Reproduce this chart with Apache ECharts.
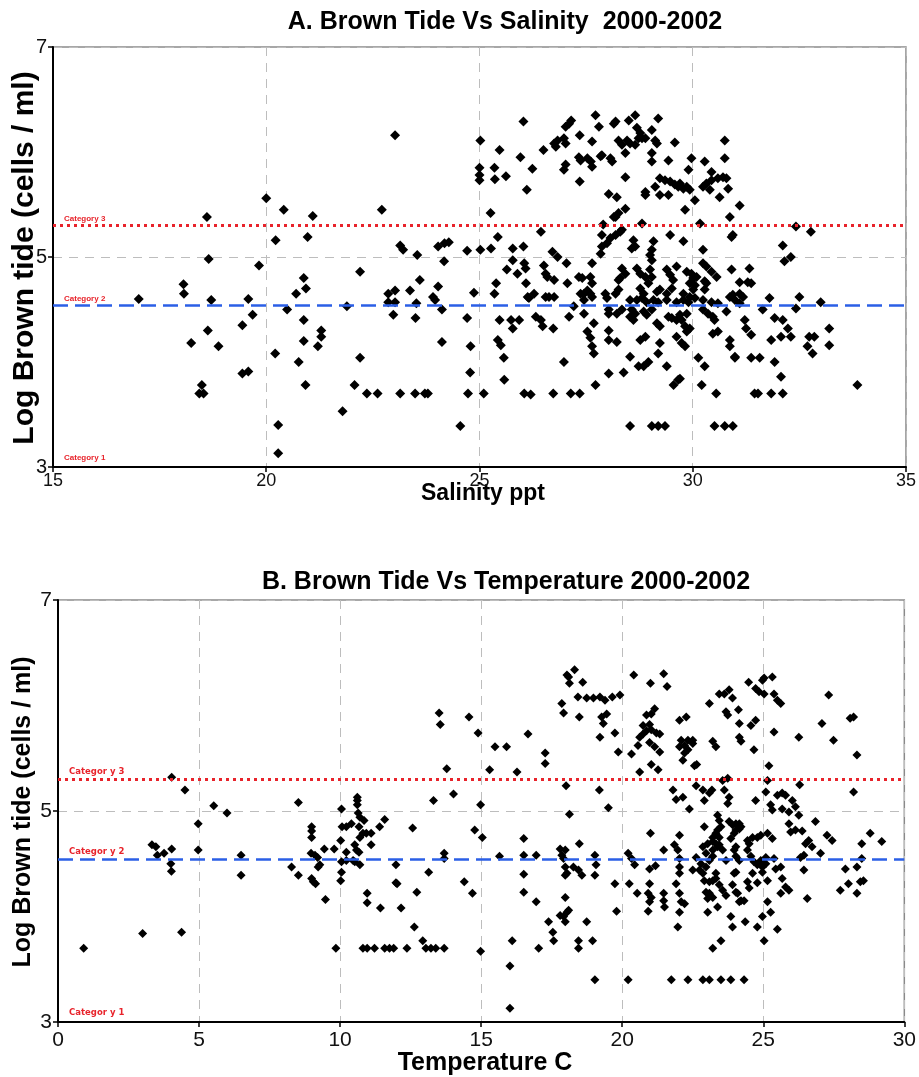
<!DOCTYPE html>
<html>
<head>
<meta charset="utf-8">
<script src="https://cdn.jsdelivr.net/npm/echarts@6/dist/echarts.min.js"></script>
<style>html,body{margin:0;padding:0;background:#fff}#c{width:919px;height:1077px}</style>
</head>
<body>
<div id="c"></div>
<script>
// ---------- DATA ----------
const salinityTicks = [15, 20, 25, 30, 35];
const temperatureTicks = [0, 5, 10, 15, 20, 25, 30];
const logTicks = [3, 5, 7];
const categoryNamesA = ['Category 3', 'Category 2', 'Category 1'];
const categoryNamesB = ['Categor y 3', 'Categor y 2', 'Categor y 1'];
const categoryLevels = [5.30, 4.54, 3.0];

// [salinity ppt, log brown tide]
const salinityPoints = [
[17.01,4.60],[18.06,4.74],[18.07,4.65],[18.24,4.18],[18.61,5.38],[18.65,4.98],[18.71,4.59],[18.63,4.30],[18.88,4.15],[18.49,3.78],[18.43,3.70],[18.53,3.70],[19.44,4.35],[19.68,4.45],[19.58,4.60],[19.44,3.89],[19.58,3.91],[19.83,4.92],[20.0,5.56],[20.22,5.16],[20.41,5.45],[20.21,4.08],[20.28,3.40],[20.28,3.13],[20.49,4.50],[20.70,4.65],[20.88,4.80],[20.93,4.70],[20.88,4.40],[20.88,4.20],[20.76,4.00],[20.92,3.78],[20.97,5.19],[21.09,5.39],[21.29,4.30],[21.29,4.24],[21.21,4.15],
[21.89,4.53],[22.20,4.86],[22.20,4.04],[21.79,3.53],[22.07,3.78],[22.36,3.70],[22.61,3.70],[22.71,5.45],[23.02,6.16],[22.86,4.65],[23.02,4.68],[22.86,4.57],[23.02,4.57],[22.98,4.45],[23.14,3.70],[23.14,5.11],[23.21,5.07],[23.37,4.68],[23.49,3.70],[23.72,3.70],[23.79,3.70],[23.54,5.02],[23.60,4.78],[23.52,4.56],[23.50,4.42],[23.91,4.62],[23.96,4.59],[24.03,4.72],[24.12,4.50],[24.12,4.19],[24.03,5.10],[24.18,5.13],[24.28,5.14],[24.17,4.96],[24.55,3.39],[24.71,5.06],[24.71,4.42],[24.79,4.15],[24.78,3.90],[24.73,3.70],[25.10,3.70],[24.87,4.66],[25.02,6.11],[25.0,5.85],[25.0,5.78],[25.0,5.73],[25.02,5.07],[25.26,5.42],[25.27,5.08],[25.35,5.85],[25.36,5.74],[25.47,6.02],[25.62,5.77],[25.43,5.19],[25.39,4.75],[25.35,4.65],[25.47,4.40],[25.43,4.21],[25.50,4.16],[25.57,4.04],[25.58,3.83],[25.64,4.88],[25.78,5.08],[25.78,4.97],[25.74,4.40],[25.78,4.32],[25.93,4.40],[25.89,4.84],[26.05,4.94],[26.08,4.89],[26.03,5.10],[25.96,5.95],[26.03,6.29],[26.11,5.64],[26.24,5.84],[26.09,4.75],[26.13,4.62],[26.16,4.61],[26.28,4.65],[26.05,3.70],[26.20,3.69],[26.32,4.43],[26.44,4.40],[26.48,4.34],[26.44,5.24],[26.50,6.02],[26.51,4.92],[26.55,4.84],[26.59,4.81],[26.55,4.62],[26.63,4.62],[26.73,4.32],[26.73,3.70],[26.75,4.78],[26.71,5.05],[26.83,5.00],[26.75,4.62],
[26.75,6.08],[26.83,6.11],[26.79,6.05],[26.98,5.83],[27.02,5.88],[26.98,6.13],[27.02,6.08],[27.02,6.24],[27.10,6.27],[27.15,6.30],[27.04,4.94],[27.06,4.75],[26.98,4.00],[27.10,4.43],[27.21,4.53],[27.35,6.16],[27.33,5.95],[27.37,5.92],[27.35,5.72],[27.14,3.70],[27.35,3.70],[27.33,4.81],[27.41,4.80],[27.37,4.65],[27.45,4.65],[27.45,4.46],[27.45,4.59],[27.53,5.94],[27.61,5.91],[27.64,5.86],[27.64,6.10],[27.72,6.35],[27.80,6.24],[27.84,5.96],[27.87,5.97],[27.64,4.94],[27.60,4.81],[27.64,4.75],[27.53,4.68],[27.60,4.65],[27.64,4.62],[27.53,4.29],[27.60,4.23],[27.64,4.15],[27.68,4.08],[27.68,4.37],[27.72,3.78],[27.84,5.03],[27.87,5.10],[27.87,5.21],[28.03,3.89],[28.03,4.30],[28.03,4.50],[28.03,4.46],[27.95,4.65],[27.99,4.61],[28.03,5.60],[28.07,5.94],[28.11,5.91],[28.15,6.27],[28.15,5.38],[27.90,5.31],
[28.19,6.29],[28.50,6.30],[28.65,6.35],[28.69,6.23],[28.77,6.18],[28.73,6.13],[29.04,6.21],[29.19,6.32],[28.26,6.11],[28.34,6.07],[28.46,6.11],[28.53,6.08],[28.42,5.99],[28.65,6.07],[28.81,6.13],[28.89,6.13],[29.12,6.11],[29.16,6.08],[29.58,6.09],[29.04,5.99],[29.04,5.91],[29.43,5.92],[28.42,5.76],[28.89,5.62],[28.89,5.59],[29.12,5.67],[29.23,5.75],[29.35,5.73],[29.47,5.72],[29.58,5.69],[29.66,5.67],[29.23,5.59],[29.43,5.59],[29.78,5.65],[29.86,5.67],[29.93,5.64],[29.70,5.70],[29.90,5.83],[29.97,5.94],[30.05,5.54],[29.82,5.45],[30.24,5.67],[30.32,5.70],[30.44,5.73],[30.40,5.64],[30.28,5.91],[30.44,5.81],[30.59,5.75],[30.71,5.76],[30.79,5.75],[30.83,5.65],[30.63,5.57],[30.75,6.11],[30.75,5.94],[31.10,5.49],[30.87,5.38],[30.91,5.19],[30.94,5.21],[28.22,5.57],[28.42,5.46],[28.19,5.38],[28.26,5.42],[28.81,5.32],[28.19,5.21],[28.30,5.24],[28.34,5.26],[27.99,5.13],[28.07,5.18],[28.61,5.16],[28.65,5.10],[29.08,5.15],[29.04,5.07],[29.00,5.02],[29.47,5.21],[29.78,5.15],[28.57,5.08],[29.04,4.97],[30.24,5.07],[30.24,4.94],[30.32,4.91],[30.44,4.86],[30.56,4.81],[30.91,4.88],[31.33,4.89],[31.10,4.76],[31.29,4.76],[31.37,4.75],[30.94,4.64],[31.10,4.65],[31.18,4.62],[31.10,4.56],
[28.34,4.89],[28.42,4.84],[28.30,4.80],[28.26,4.78],[28.69,4.89],[28.77,4.84],[28.89,4.81],[29.00,4.88],[29.04,4.81],[28.96,4.75],[29.39,4.88],[29.47,4.83],[29.54,4.78],[29.62,4.91],[29.86,4.86],[29.97,4.84],[30.01,4.80],[30.09,4.81],[29.93,4.75],[30.05,4.73],[30.01,4.69],[29.78,4.65],[29.93,4.62],[30.05,4.61],[29.51,4.70],[29.39,4.65],[29.16,4.67],[29.23,4.69],[28.77,4.70],[28.85,4.65],[28.19,4.65],[28.26,4.69],[28.53,4.59],[28.69,4.59],[28.81,4.61],[28.92,4.57],[29.08,4.59],[29.19,4.57],[29.39,4.59],[29.62,4.57],[29.78,4.59],[29.90,4.57],[30.24,4.59],[30.44,4.57],[30.59,4.56],[30.87,4.62],[30.99,4.59],
[28.22,4.46],[28.34,4.50],[28.57,4.50],[28.53,4.43],[28.61,4.40],[28.65,4.46],[28.85,4.48],[28.92,4.45],[29.04,4.50],[29.16,4.37],[29.23,4.34],[29.43,4.43],[29.51,4.42],[29.62,4.40],[29.74,4.40],[29.70,4.45],[29.86,4.46],[29.82,4.34],[29.93,4.32],[29.86,4.29],[29.62,4.24],[29.74,4.18],[29.82,4.15],[30.24,4.50],[30.36,4.46],[30.47,4.43],[30.51,4.40],[30.47,4.27],[30.59,4.29],[30.87,4.21],[30.87,4.15],[30.99,4.05],[31.22,4.40],[31.25,4.32],[31.37,4.26],[31.64,4.50],[31.80,4.61],[31.92,4.42],[32.11,4.40],[32.23,4.32],[32.30,4.24],[31.84,4.21],[32.07,4.24],[32.42,4.51],[32.50,4.62],[32.73,4.24],[32.85,4.24],[32.69,4.15],[32.81,4.08],[33.00,4.57],[33.20,4.32],[33.20,4.16],[33.86,3.78],[32.11,5.11],[32.15,4.96],[32.30,5.00],[32.42,5.29],[32.77,5.24],
[28.03,4.21],[28.22,4.19],[28.77,4.21],[28.89,4.24],[29.23,4.18],[29.19,4.08],[28.53,4.05],[28.73,3.96],[28.85,3.96],[28.96,4.00],[28.38,3.90],[29.39,3.96],[29.55,3.78],[29.70,3.84],[29.66,3.83],[30.13,4.04],[30.28,3.96],[30.21,3.78],[30.55,3.70],[30.99,4.04],[31.37,4.04],[31.57,4.04],[31.92,4.00],[32.07,3.86],[31.45,3.70],[31.53,3.70],[31.84,3.70],[32.11,3.70],[28.53,3.39],[29.04,3.39],[29.19,3.39],[29.35,3.39],[30.51,3.39],[30.75,3.39],[30.94,3.39],[30.28,4.77],[30.32,4.75],[30.28,4.69],[30.79,4.48],[30.17,5.32]
];

// [temperature C, log brown tide]
const temperaturePoints = [
[0.91,3.70],[3.00,3.84],[4.38,3.85],[3.33,4.68],[3.47,4.66],[3.52,4.58],[3.76,4.60],[4.03,4.64],[4.03,5.32],[4.50,5.20],[4.00,4.50],[4.02,4.43],[4.97,4.88],[4.97,4.63],[5.52,5.05],[5.99,4.98],[6.49,4.58],[6.49,4.39],[8.52,5.08],[8.28,4.47],[8.52,4.39],[8.99,4.85],[8.99,4.81],[8.99,4.75],[8.97,4.60],[9.11,4.58],[9.20,4.56],[9.28,4.49],[9.22,4.47],[8.99,4.36],[9.05,4.33],[9.13,4.31],[9.48,4.16],[9.44,4.64],[9.79,4.64],[9.85,3.70],[10.05,5.02],[10.07,4.85],[10.02,4.72],[10.05,4.52],[10.05,4.42],[10.02,4.34],[10.22,4.85],[10.40,4.88],[10.22,4.61],[10.22,4.53],[10.46,4.53],[10.52,4.68],[10.61,5.13],[10.61,5.10],[10.61,5.06],[10.64,4.98],[10.70,4.94],[10.85,4.91],[10.67,4.85],[10.70,4.75],[10.58,4.63],[10.67,4.61],[10.52,4.52],[10.70,4.49],[10.81,4.79],[10.93,4.79],[11.10,4.79],[11.10,4.68],[10.96,4.22],[10.96,4.13],[10.81,3.70],[10.96,3.70],[11.22,3.70],[11.43,4.08],[11.40,4.85],[11.58,4.92],[11.58,3.70],[11.75,3.70],[11.90,3.70],[11.98,4.49],[11.98,4.32],[12.02,4.31],[12.16,4.08],[12.37,3.70],[12.57,4.84],[12.72,4.23],[12.63,3.90],[12.93,3.77],[13.04,3.70],[13.22,3.70],[13.39,3.70],[13.69,3.70],[13.14,4.42],[13.31,5.10],[13.51,5.93],[13.55,5.82],[13.78,5.40],[14.02,5.16],[13.69,4.60],[13.69,4.55],
[14.40,4.33],[14.69,4.22],[14.57,5.89],[14.89,5.74],[14.98,5.06],[14.77,4.82],[15.04,4.75],[14.98,3.67],[15.49,5.61],[15.90,5.61],[15.30,5.39],[16.27,5.37],[15.65,4.57],[16.10,3.77],[16.02,3.53],[16.02,3.13],[16.66,5.73],[16.51,4.74],[16.51,4.58],[16.51,4.40],[16.51,4.23],[16.95,4.58],[16.95,4.14],[17.04,3.70],[17.27,5.55],[17.27,5.45],[17.39,3.95],[17.54,3.85],[17.57,3.77],[17.86,6.02],[17.92,5.93],[18.01,5.24],[17.80,4.64],[17.98,4.63],[17.86,4.58],[17.92,4.55],[17.98,4.47],[18.04,4.41],[17.98,4.39],[18.13,4.97],[17.98,4.18],[17.80,4.01],[17.92,4.00],[18.04,4.04],[17.98,3.95],[18.10,4.06],[18.04,6.29],[18.13,6.21],[18.10,6.27],[18.31,6.34],[18.48,4.69],[18.27,4.47],[18.45,4.44],[18.57,4.39],[18.45,3.77],[18.45,3.70],[18.48,5.89],[18.60,6.22],[18.43,6.08],[18.74,6.07],[18.98,6.07],[19.21,6.08],[19.39,6.05],[19.65,6.08],[19.92,6.10],[18.74,3.95],[18.95,3.77],[19.03,4.58],[19.07,4.49],[19.03,4.39],[19.03,3.40],[19.21,5.70],[19.33,5.83],[19.27,5.89],[19.45,5.92],[19.19,5.20],[19.51,5.03],[19.74,4.31],[19.74,5.74],[19.86,5.56],[19.80,4.05],[20.21,4.60],[20.33,4.55],[20.44,4.49],[20.25,4.31],[20.53,4.22],[20.21,3.40],[20.33,5.54],[20.62,5.37],[20.41,6.29],[21.00,6.21],[21.47,6.30],[21.59,6.18],
[20.86,5.91],[21.03,5.92],[21.15,5.97],[20.97,5.82],[20.74,5.81],[20.86,5.76],[21.03,5.77],[21.21,5.74],[21.33,5.73],[20.62,5.70],[20.74,5.73],[20.56,5.62],[20.97,5.65],[21.15,5.61],[21.33,5.56],
[21.03,5.44],[21.27,5.39],[21.00,4.79],[20.97,4.45],[20.97,4.31],[20.92,4.22],[21.03,4.18],[20.97,4.14],[20.92,4.05],[21.18,4.48],[21.47,4.63],[21.47,4.22],[21.47,4.15],[21.50,4.09],[21.74,3.40],[22.33,3.40],
[21.80,5.20],[21.91,5.11],[22.15,5.13],[22.38,5.02],[21.97,3.90],[21.85,4.68],[21.97,4.63],[22.03,4.55],[22.03,4.47],[22.03,4.41],[21.91,4.31],[22.03,4.22],[22.09,4.14],[22.03,4.04],[22.03,4.77],[22.21,4.12],
[22.03,5.86],[22.27,5.89],[22.09,5.67],[22.21,5.62],[22.33,5.67],[22.50,5.64],[22.03,5.61],[22.21,5.55],[22.33,5.58],[22.50,5.67],[22.15,5.48],[22.56,5.43],
[22.74,4.44],[22.86,4.41],[22.97,4.47],[23.09,4.53],[23.21,4.57],[22.97,4.60],[22.86,4.66],[23.03,4.69],[23.21,4.63],[23.32,4.41],[23.21,4.34],[23.44,4.30],[23.56,4.25],
[22.91,4.85],[22.86,5.20],[22.91,5.10],[22.64,5.44],[22.62,5.24],[23.18,5.20],[23.09,5.17],[23.09,6.02],[23.21,5.66],[23.32,5.61],[23.09,4.22],[23.21,4.18],[23.03,4.04],[23.21,3.70],[23.50,3.77],[22.86,3.40],[23.09,3.40],[23.50,3.40],[23.85,3.40],[24.32,3.40],
[23.38,4.96],[23.44,4.91],[23.50,4.85],[23.38,4.82],[23.21,4.75],[23.32,4.69],[23.44,4.68],[23.56,4.63],[23.68,4.53],[23.38,4.09],
[23.44,6.11],[23.62,6.11],[23.79,6.15],[23.91,6.07],[23.68,5.94],[23.74,5.91],
[23.56,5.29],[23.74,5.31],[23.62,5.20],[23.79,5.13],[23.74,5.07],
[23.79,4.90],[23.91,4.87],[24.03,4.82],[24.15,4.88],[24.21,4.85],[23.97,4.79],
[23.85,4.74],[23.97,4.63],[24.03,4.57],[24.15,4.53],[23.97,4.41],[23.91,4.30],[24.09,4.22],[23.85,4.00],[23.91,3.90],
[24.12,5.96],[24.15,5.83],[24.15,5.70],[24.21,5.66],[24.32,4.15],[24.15,4.14],[24.36,3.95],
[24.44,4.72],[24.50,4.69],[24.62,4.75],[24.79,4.75],[24.91,4.77],[24.44,4.63],[24.56,4.57],[24.67,4.52],[24.79,4.49],[24.91,4.53],[24.97,4.47],[24.62,4.41],[24.44,4.33],[24.50,4.27],[24.79,4.32],
[24.48,6.22],[24.73,6.16],[24.85,6.13],[25.03,6.11],[25.03,6.26],[25.32,6.27],[25.38,6.11],[25.50,6.05],[25.62,6.02],[24.97,6.24],[24.73,5.86],[24.56,5.81],[25.38,5.75],[24.67,5.58],
[24.73,5.10],[25.09,5.18],[25.20,5.43],[25.15,5.29],
[25.26,5.06],[25.32,5.01],[25.50,5.15],[25.67,5.17],[25.79,5.15],[25.67,5.02],[25.91,4.99],[26.03,5.10],[26.14,5.04],[26.26,4.96],[25.91,4.88],[25.97,4.80],[26.14,4.82],[26.38,4.81],[26.32,4.56],[26.50,4.69],[26.61,4.72],[26.73,4.66],[26.44,4.58],[26.85,4.90],[27.03,4.60],[27.26,4.77],[27.44,4.72],
[25.15,4.79],[25.32,4.74],[25.09,4.56],[25.38,4.55],[25.09,4.50],[24.97,4.42],[25.15,4.34],[25.44,4.45],
[25.62,4.47],[25.67,4.36],[25.79,4.28],[25.91,4.25],[25.62,4.22],
[25.15,4.14],[25.26,4.04],[24.97,4.00],[24.79,3.90],[25.03,3.77],[25.50,3.88],
[26.26,5.70],[27.08,5.83],[27.32,6.10],[27.49,5.67],[28.08,5.88],[28.20,5.89],[28.32,5.53],[28.20,5.18],[28.79,4.79],[29.20,4.71],[26.29,5.25],
[26.44,4.44],[26.56,4.17],
[27.73,4.25],[27.91,4.45],[28.02,4.31],[28.32,4.22],[28.32,4.47],[28.44,4.33],[28.55,4.34],[28.49,4.69],[28.49,4.55],
[24.03,4.88],[24.15,4.83],[23.44,4.75],[23.32,4.79],[23.21,4.71],[23.38,4.66],[22.79,4.50],[22.62,4.56],[22.50,4.44],[22.91,4.34],[23.09,4.33],[22.97,4.23],[23.03,4.17],[23.32,4.36],[23.68,4.20],[24.03,4.66],[24.03,4.42],[24.03,4.23],[24.21,4.15]
];

// ---------- CHART ----------
const RED = '#e8232b', BLUE = '#2b5fe6';
const chart = echarts.init(document.getElementById('c'), null, {renderer: 'canvas'});

function catMarkLine(names, font, fs) {
  const lbl = {show: true, formatter: '{b}', position: 'insideStartTop', color: RED,
    fontSize: fs, fontWeight: 'bold', fontFamily: font, distance: [11, 3]};
  return {
    silent: true, symbol: 'none', animation: false,
    data: [
      {yAxis: categoryLevels[0], name: names[0], lineStyle: {color: RED, type: [3, 4], width: 3}, label: lbl},
      {yAxis: categoryLevels[1], name: names[1], lineStyle: {color: BLUE, type: [15, 7], width: 2.5}, label: lbl},
      {yAxis: categoryLevels[2], name: names[2], lineStyle: {color: 'rgba(0,0,0,0)', width: 1}, label: Object.assign({}, lbl, {distance: [11, 5]})}
    ]
  };
}

const gridLine = {show: true, lineStyle: {color: '#bdbdbd', type: [9, 7], width: 1}};

function xAxisOf(idx, ticks, fs, margin) {
  return {
    type: 'value', gridIndex: idx, min: ticks[0], max: ticks[ticks.length - 1], interval: ticks[1] - ticks[0],
    axisLine: {show: true, onZero: false, lineStyle: {color: '#000', width: 2}},
    axisTick: {show: true, length: 5, lineStyle: {color: '#000', width: 1.5}},
    axisLabel: {color: '#111', fontSize: fs, fontFamily: 'Liberation Sans', margin: margin},
    splitLine: gridLine
  };
}
function yAxisOf(idx, fs) {
  return {
    type: 'value', gridIndex: idx, min: logTicks[0], max: logTicks[logTicks.length - 1], interval: logTicks[1] - logTicks[0],
    axisLine: {show: true, onZero: false, lineStyle: {color: '#000', width: 2}},
    axisTick: {show: true, length: 5, lineStyle: {color: '#000', width: 1.5}},
    axisLabel: {color: '#111', fontSize: fs, fontFamily: 'Liberation Sans', margin: 6},
    splitLine: gridLine
  };
}

const option = {
  animation: false,
  backgroundColor: '#fff',
  grid: [
    {left: 53, top: 47, width: 859, height: 420, show: true, borderColor: '#8a8a8a', borderWidth: 1.5, backgroundColor: 'transparent'},
    {left: 58, top: 600, width: 852, height: 422, show: true, borderColor: '#8a8a8a', borderWidth: 1.5, backgroundColor: 'transparent'}
  ],
  xAxis: [xAxisOf(0, salinityTicks, 18, 5), xAxisOf(1, temperatureTicks, 21, 8)],
  yAxis: [yAxisOf(0, 20), yAxisOf(1, 21)],
  series: [
    {type: 'scatter', xAxisIndex: 0, yAxisIndex: 0, data: salinityPoints, symbol: 'diamond', symbolSize: 10,
     itemStyle: {color: '#000', opacity: 1}, markLine: catMarkLine(categoryNamesA, 'Liberation Sans', 8)},
    {type: 'scatter', xAxisIndex: 1, yAxisIndex: 1, data: temperaturePoints, symbol: 'diamond', symbolSize: 9,
     itemStyle: {color: '#000', opacity: 1}, markLine: catMarkLine(categoryNamesB, 'DejaVu Sans', 8.5)}
  ],
  graphic: [
    {type: 'text', x: 505, y: 22, style: {text: 'A. Brown Tide Vs Salinity  2000-2002', fill: '#000',
      font: 'bold 25px "Liberation Sans Narrow", "Liberation Sans", sans-serif', align: 'center', verticalAlign: 'middle'}},
    {type: 'text', x: 506, y: 582, style: {text: 'B. Brown Tide Vs Temperature 2000-2002', fill: '#000',
      font: 'bold 25px "Liberation Sans", Arial, sans-serif', align: 'center', verticalAlign: 'middle'}},
    {type: 'text', x: 25, y: 258, rotation: Math.PI / 2, style: {text: 'Log Brown tide (cells / ml)', fill: '#000',
      font: 'bold 30px "Liberation Sans", Arial, sans-serif', align: 'center', verticalAlign: 'middle'}},
    {type: 'text', x: 23, y: 812, rotation: Math.PI / 2, style: {text: 'Log Brown tide (cells / ml)', fill: '#000',
      font: 'bold 25px "Liberation Sans", Arial, sans-serif', align: 'center', verticalAlign: 'middle'}},
    {type: 'text', x: 483, y: 494, style: {text: 'Salinity ppt', fill: '#000',
      font: 'bold 23px "Liberation Sans", Arial, sans-serif', align: 'center', verticalAlign: 'middle'}},
    {type: 'text', x: 485, y: 1063, style: {text: 'Temperature C', fill: '#000',
      font: 'bold 25px "Liberation Sans", Arial, sans-serif', align: 'center', verticalAlign: 'middle'}}
  ]
};
chart.setOption(option);
</script>
</body>
</html>
